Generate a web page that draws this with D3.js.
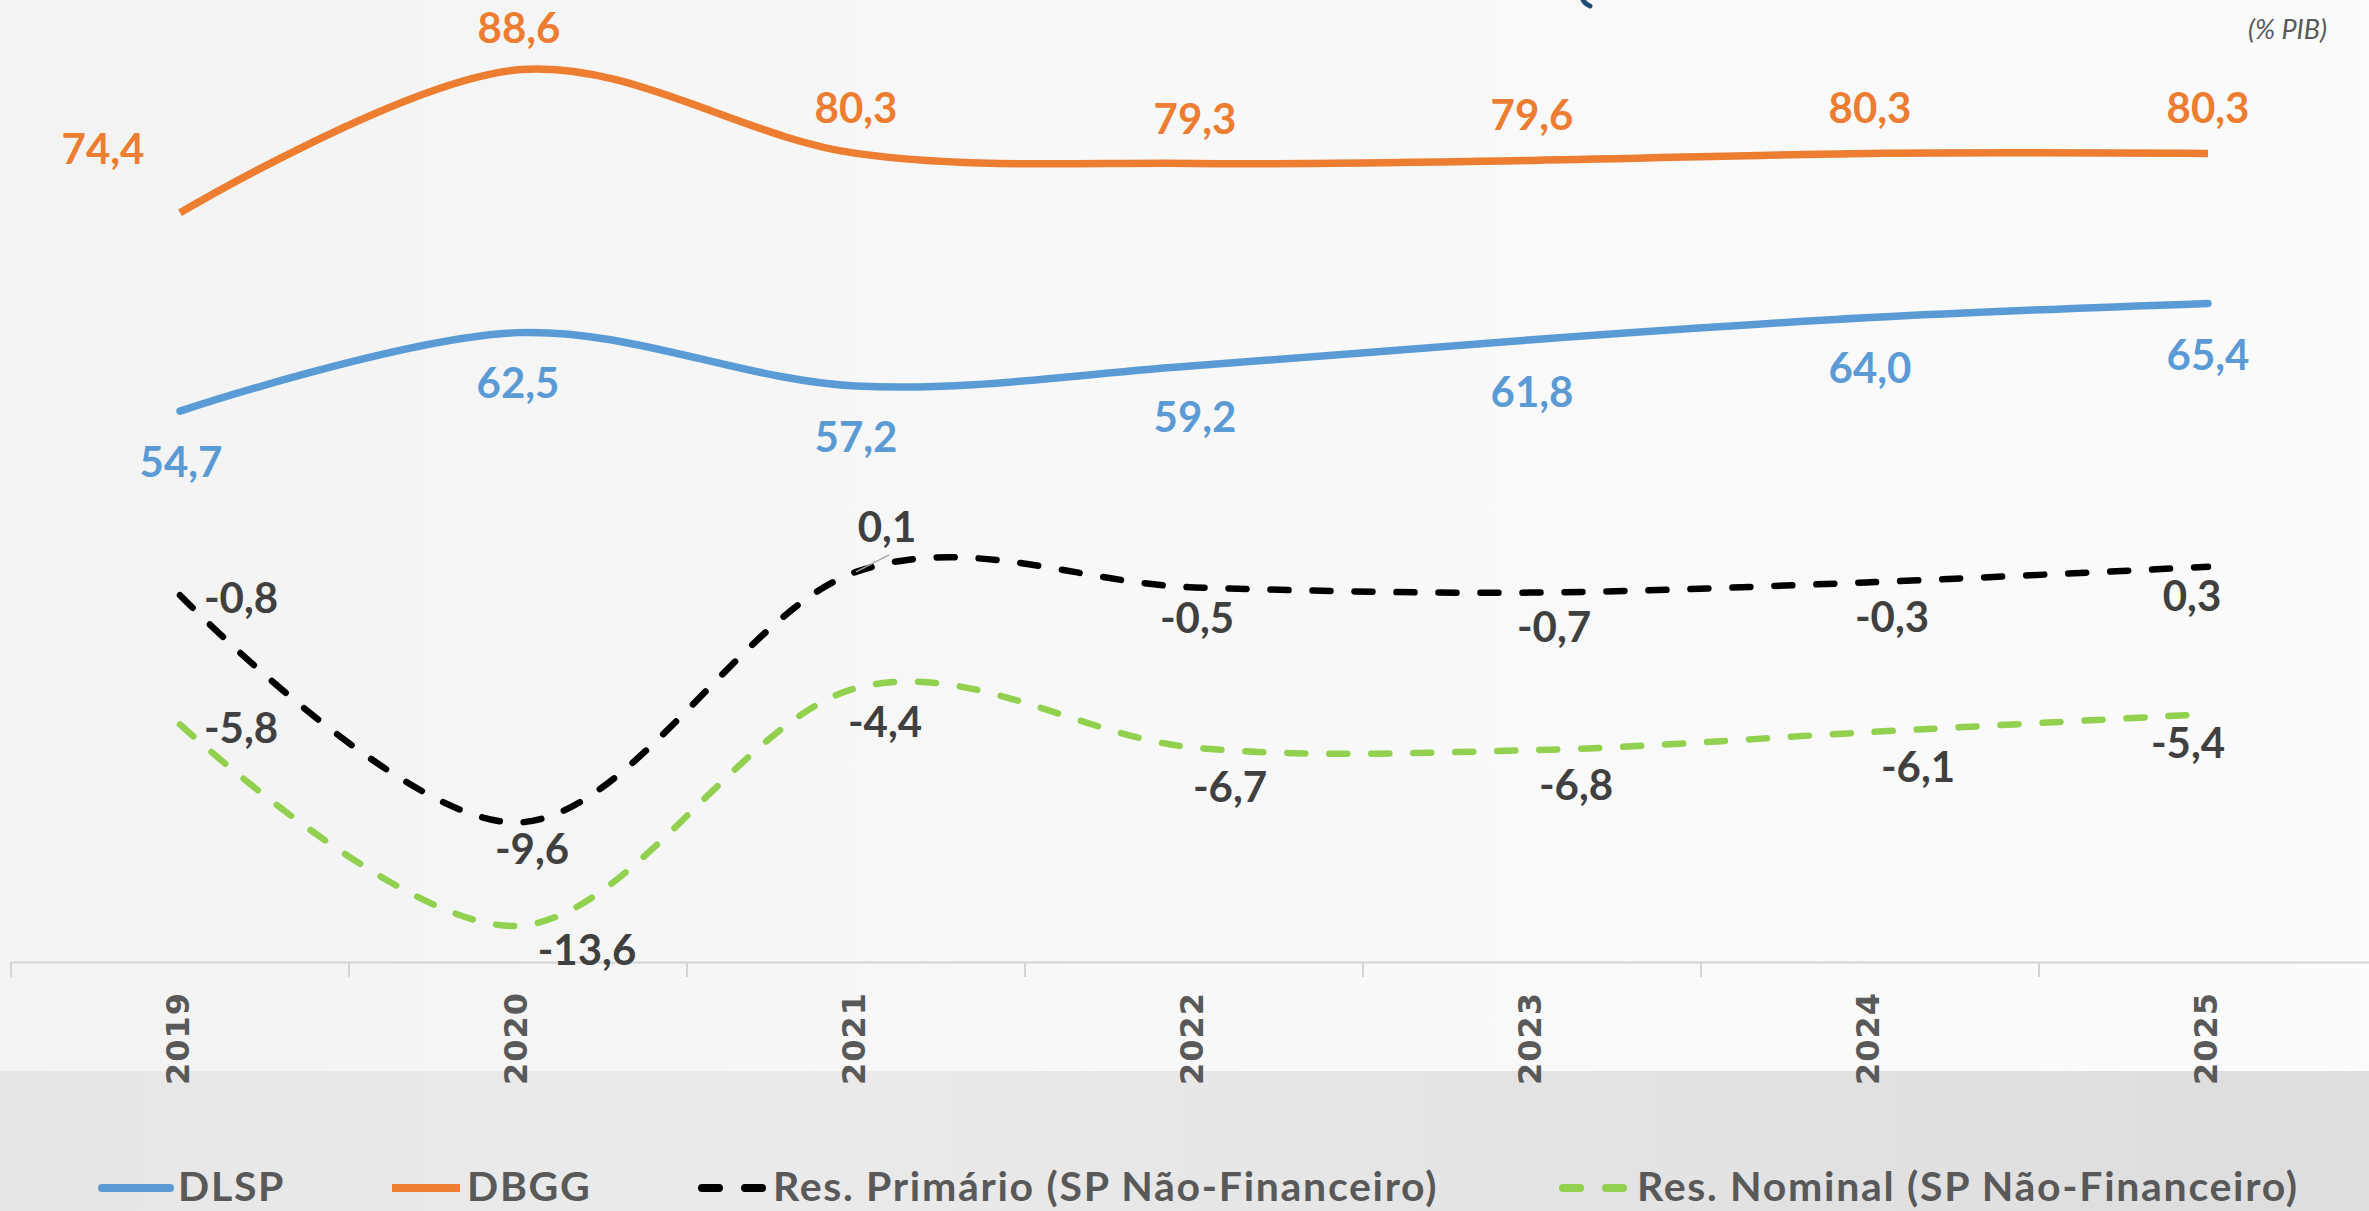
<!DOCTYPE html>
<html>
<head>
<meta charset="utf-8">
<script src="https://d3js.org/d3.v7.min.js"></script>
<style>
  html, body { margin: 0; padding: 0; background: #f9f9f9; }
  svg { display: block; }
</style>
</head>
<body>
<div id="chart"></div>
<script>
// ---------------- DATA ----------------
const years = ["2019", "2020", "2021", "2022", "2023", "2024", "2025"];
const dlsp = [54.7, 62.5, 57.2, 59.2, 61.8, 64.0, 65.4];
const dbgg = [74.4, 88.6, 80.3, 79.3, 79.6, 80.3, 80.3];
const resPrimario = [-0.8, -9.6, 0.1, -0.5, -0.7, -0.3, 0.3];
const resNominal = [-5.8, -13.6, -4.4, -6.7, -6.8, -6.1, -5.4];
const seriesNames = ["DLSP", "DBGG", "Res. Primário (SP Não-Financeiro)", "Res. Nominal (SP Não-Financeiro)"];
const unitLabel = "(% PIB)";

// ---------------- LAYOUT ----------------
const W = 2369, H = 1211;
const axisY = 962;
const FONT = "Lato, 'Open Sans', sans-serif";

const svg = d3.select("#chart").append("svg")
  .attr("width", W).attr("height", H)
  .attr("viewBox", `0 0 ${W} ${H}`);

// background
const defs = svg.append("defs");
const bg = defs.append("linearGradient").attr("id", "bgGrad").attr("x1", 0).attr("x2", 1).attr("y1", 0).attr("y2", 0);
bg.append("stop").attr("offset", "0%").attr("stop-color", "#f3f3f3");
bg.append("stop").attr("offset", "45%").attr("stop-color", "#f8f8f8");
bg.append("stop").attr("offset", "100%").attr("stop-color", "#fbfbfb");
const band = defs.append("linearGradient").attr("id", "bandGrad").attr("x1", 0).attr("x2", 1).attr("y1", 0).attr("y2", 0);
band.append("stop").attr("offset", "0%").attr("stop-color", "#e6e6e6");
band.append("stop").attr("offset", "30%").attr("stop-color", "#ebebeb");
band.append("stop").attr("offset", "70%").attr("stop-color", "#e3e3e3");
band.append("stop").attr("offset", "100%").attr("stop-color", "#dddddd");
svg.append("rect").attr("width", W).attr("height", H).attr("fill", "url(#bgGrad)");
svg.append("rect").attr("x", 0).attr("y", 1071).attr("width", W).attr("height", H - 1071).attr("fill", "url(#bandGrad)");

// tip of a cropped title glyph at the top edge
svg.append("path").attr("d", "M1583,0 Q1585,4 1590,6")
  .attr("fill", "none").attr("stroke", "#1f4e79").attr("stroke-width", 5).attr("stroke-linecap", "round");

// scales
const x = d3.scaleBand().domain(years).range([11, 2377]).padding(0);
const cx = d => x(d) + x.bandwidth() / 2;
const yL = d3.scaleLinear().domain([0, 100]).range([axisY, -45]);
const yR = d3.scaleLinear().domain([-15, 0]).range([axisY, 574.5]);

const loc = d3.formatLocale({ decimal: ",", thousands: ".", grouping: [3], currency: ["R$", ""], minus: "-" });
const fmt = loc.format(".1f");

// x axis
const axis = svg.append("g").attr("transform", `translate(0,${axisY})`)
  .call(d3.axisBottom(x).tickSize(0).tickSizeOuter(0));
axis.select(".domain").attr("stroke", "#d4d4d4").attr("stroke-width", 2);
axis.selectAll(".tick text").remove();
const bounds = years.map(d => x(d)).concat([x.range()[1]]);
axis.selectAll("line.sep").data(bounds).enter().append("line")
  .attr("class", "sep")
  .attr("x1", d => d).attr("x2", d => d)
  .attr("y1", 0).attr("y2", 15)
  .attr("stroke", "#d4d4d4").attr("stroke-width", 2);
axis.selectAll(".tick").append("text")
  .attr("transform", "translate(0,30) rotate(-90)")
  .attr("x", 0).attr("y", 9)
  .attr("text-anchor", "end")
  .attr("font-family", "'DejaVu Sans', Verdana, sans-serif").attr("font-weight", 700)
  .attr("font-size", 32).attr("letter-spacing", 1)
  .attr("fill", "#595959")
  .attr("stroke", "none")
  .text(d => d);

// line generator
const curve = d3.curveCardinal.tension(0);
function drawLine(vals, yScale, color, width, dash, cap) {
  const line = d3.line().x((d, i) => cx(years[i])).y(d => yScale(d)).curve(curve);
  svg.append("path").datum(vals)
    .attr("d", line)
    .attr("fill", "none")
    .attr("stroke", color)
    .attr("stroke-width", width)
    .attr("stroke-linecap", cap)
    .attr("stroke-dasharray", dash || null);
}
const colDLSP = "#5b9bd5", colDBGG = "#ed7d31", colPrim = "#000000", colNom = "#92d050";
drawLine(dbgg, yL, colDBGG, 7.5, null, "butt");
drawLine(dlsp, yL, colDLSP, 7.5, null, "round");
drawLine(resPrimario, yR, colPrim, 6.5, "18,24", "round");
drawLine(resNominal, yR, colNom, 6.5, "18,24", "round");

// label placement (offsets of label centre from the data point)
const offDBGG = [[-77, -64], [1, -42], [0, -45], [1, -44], [0, -45], [0, -45], [0, -45]];
const offDLSP = [[1, 51], [0, 50], [0, 51], [1, 51], [0, 52], [0, 50], [0, 52]];
const offPrim = [[61, 3], [14, 26], [31, -45], [3, 31], [22, 34], [22, 35], [-16, 29]];
const offNom = [[61, 4], [69, 24], [29, 34], [36, 39], [44, 35], [48, 35], [-20, 29]];

// leader line for 2021 primary result
{
  const px = cx(years[2]), py = yR(resPrimario[2]);
  svg.append("line").attr("x1", px).attr("y1", py).attr("x2", px + 33).attr("y2", py - 17)
    .attr("stroke", "#a6a6a6").attr("stroke-width", 1.5);
}

function drawLabels(vals, yScale, offs, color) {
  svg.append("g").selectAll("text").data(vals).enter().append("text")
    .attr("x", (d, i) => cx(years[i]) + offs[i][0])
    .attr("y", (d, i) => yScale(d) + offs[i][1] + 15)
    .attr("text-anchor", "middle")
    .attr("font-family", FONT).attr("font-weight", 700).attr("font-size", 42)
    .attr("fill", color)
    .text(d => fmt(d));
}
drawLabels(dbgg, yL, offDBGG, colDBGG);
drawLabels(dlsp, yL, offDLSP, colDLSP);
drawLabels(resPrimario, yR, offPrim, "#404040");
drawLabels(resNominal, yR, offNom, "#404040");

// unit label
svg.append("text").attr("x", 2327).attr("y", 39)
  .attr("text-anchor", "end")
  .attr("font-family", FONT).attr("font-style", "italic").attr("font-size", 27)
  .attr("fill", "#595959").text(unitLabel);

// legend
const legY = 1188;
const legend = [
  { name: seriesNames[0], color: colDLSP, x1: 102, x2: 170, dash: null, cap: "round", tx: 178 },
  { name: seriesNames[1], color: colDBGG, x1: 392, x2: 460, dash: null, cap: "butt", tx: 467 },
  { name: seriesNames[2], color: colPrim, x1: 702, x2: 764, dash: "17,26", cap: "round", tx: 773 },
  { name: seriesNames[3], color: colNom, x1: 1563, x2: 1625, dash: "17,26", cap: "round", tx: 1637 }
];
const lg = svg.append("g").selectAll("g").data(legend).enter().append("g");
lg.append("line")
  .attr("x1", d => d.x1).attr("x2", d => d.x2).attr("y1", legY).attr("y2", legY)
  .attr("stroke", d => d.color).attr("stroke-width", 8)
  .attr("stroke-linecap", d => d.cap)
  .attr("stroke-dasharray", d => d.dash);
lg.append("text")
  .attr("x", d => d.tx).attr("y", legY + 13)
  .attr("font-family", FONT).attr("font-weight", 700).attr("font-size", 41)
  .attr("letter-spacing", 1.7)
  .attr("fill", "#595959")
  .text(d => d.name);
</script>
</body>
</html>
